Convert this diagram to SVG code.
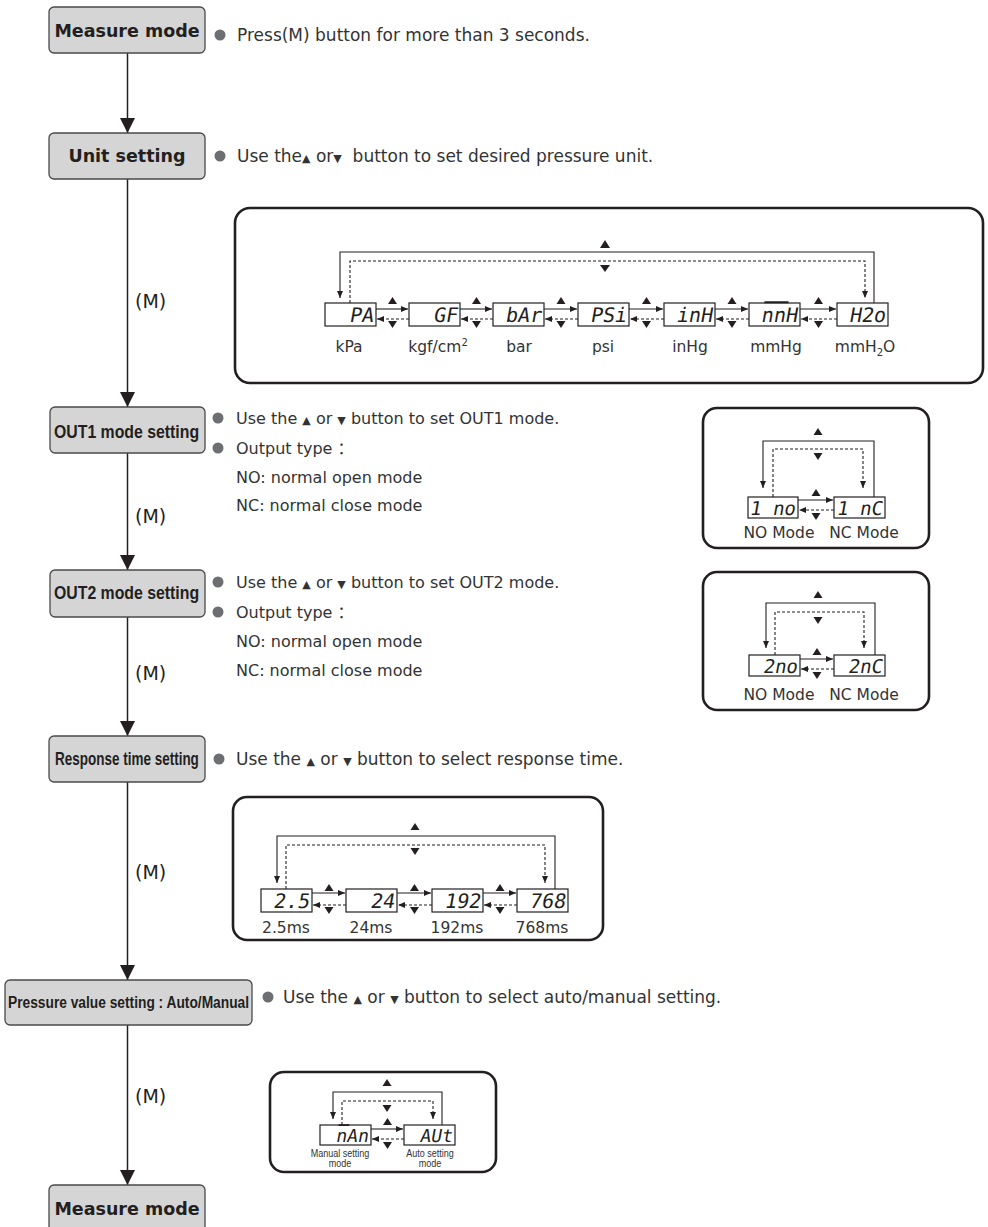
<svg xmlns="http://www.w3.org/2000/svg" width="988" height="1227" viewBox="0 0 988 1227">
<style>
.box{fill:#d5d5d6;stroke:#4a4a4a;stroke-width:1.3}
.bl{font-family:"DejaVu Sans",sans-serif;font-weight:bold;font-size:17.5px;fill:#231f20;text-anchor:middle}
.bc{font-family:"Liberation Sans",Arial,sans-serif;font-weight:bold;fill:#231f20}
.t{font-family:"DejaVu Sans","Noto Sans CJK SC",sans-serif;font-size:17px;fill:#333}
.t16{font-size:16px}
.tri{font-size:11px}
.m{font-family:"DejaVu Sans",sans-serif;font-size:19px;fill:#231f20}
.dot{fill:#6d6e71}
.panel{fill:#fff;stroke:#231f20;stroke-width:2.6}
.disp{fill:#fff;stroke:#231f20;stroke-width:1.2}
.seg{font-family:"DejaVu Sans Mono",monospace;fill:#231f20;text-anchor:end}
.lbl{font-family:"DejaVu Sans",sans-serif;font-size:15.5px;fill:#333;text-anchor:middle}
.sl{font-family:"Liberation Sans",Arial,sans-serif;font-size:11px;fill:#333;text-anchor:middle}
.main{stroke:#231f20;stroke-width:1.5;fill:none}
.ln{stroke:#231f20;stroke-width:1.1;fill:none}
.dash{stroke:#231f20;stroke-width:1.1;fill:none;stroke-dasharray:3 2}
.ar{fill:#231f20}
</style>
<defs>
<marker id="big" markerUnits="userSpaceOnUse" markerWidth="16" markerHeight="16" refX="15" refY="7.5" orient="auto"><path d="M0,0 L15,7.5 L0,15 z" fill="#231f20"/></marker>
<marker id="sm" markerUnits="userSpaceOnUse" markerWidth="8" markerHeight="6" refX="7" refY="3" orient="auto"><path d="M0,0 L7,3 L0,6 z" fill="#231f20"/></marker>
</defs>
<rect width="988" height="1227" fill="#fff"/>

<!-- main flow connectors -->
<g id="connectors">
<line class="main" x1="127.5" y1="53" x2="127.5" y2="133" marker-end="url(#big)"/>
<line class="main" x1="127.5" y1="179" x2="127.5" y2="407" marker-end="url(#big)"/>
<line class="main" x1="127.5" y1="453" x2="127.5" y2="570" marker-end="url(#big)"/>
<line class="main" x1="127.5" y1="617" x2="127.5" y2="736" marker-end="url(#big)"/>
<line class="main" x1="127.5" y1="782" x2="127.5" y2="980" marker-end="url(#big)"/>
<line class="main" x1="127.5" y1="1025" x2="127.5" y2="1185" marker-end="url(#big)"/>
<text class="m" x="135" y="308">(M)</text>
<text class="m" x="135" y="523">(M)</text>
<text class="m" x="135" y="680">(M)</text>
<text class="m" x="135" y="879">(M)</text>
<text class="m" x="135" y="1103">(M)</text>
</g>

<!-- nodes -->
<g id="measure-mode-top">
<rect class="box" x="49" y="7" width="156" height="46" rx="5"/>
<text class="bl" x="127" y="37">Measure mode</text>
<circle class="dot" cx="220" cy="35" r="5.5"/>
<text class="t" x="237" y="41">Press(M) button for more than 3 seconds.</text>
</g>

<g id="unit-setting">
<rect class="box" x="49" y="133" width="156" height="46" rx="5"/>
<text class="bl" x="127" y="162">Unit setting</text>
<circle class="dot" cx="220" cy="156" r="5.5"/>
<text class="t" x="237" y="162" xml:space="preserve">Use the<tspan class="tri">▲</tspan> or<tspan class="tri">▼</tspan>  button to set desired pressure unit.</text>
</g>

<g id="unit-panel">
<rect class="panel" x="235" y="208" width="748" height="175" rx="15"/>
<polygon class="ar" points="605,240 610,248 600,248"/>
<polygon class="ar" points="600,265 610,265 605,272"/>
<path class="ln" d="M874,303 V252 H340 V298" marker-end="url(#sm)"/>
<path class="dash" d="M350,303 V261 H865 V298" marker-end="url(#sm)"/>
<rect class="disp" x="325" y="303" width="51" height="23"/>
<rect class="disp" x="409" y="303" width="51" height="23"/>
<rect class="disp" x="493" y="303" width="51" height="23"/>
<rect class="disp" x="578" y="303" width="51" height="23"/>
<rect class="disp" x="664" y="303" width="51" height="23"/>
<rect class="disp" x="749" y="303" width="51" height="23"/>
<rect class="disp" x="837" y="303" width="51" height="23"/>
<text class="seg" font-size="20" transform="translate(373,322) skewX(-10)">PA</text>
<text class="seg" font-size="20" transform="translate(457,322) skewX(-10)">GF</text>
<text class="seg" font-size="20" transform="translate(541,322) skewX(-10)">bAr</text>
<text class="seg" font-size="20" transform="translate(626,322) skewX(-10)">PSi</text>
<text class="seg" font-size="20" transform="translate(712,322) skewX(-10)">inH</text>
<text class="seg" font-size="20" transform="translate(797,322) skewX(-10)"><tspan text-decoration="overline">nn</tspan>H</text>
<text class="seg" font-size="20" transform="translate(885,322) skewX(-10)">H2o</text>
<g>
<line class="ln" x1="376" y1="309" x2="408" y2="309" marker-end="url(#sm)"/>
<line class="dash" x1="409" y1="319" x2="377" y2="319" marker-end="url(#sm)"/>
<polygon class="ar" points="392.5,297 397,304 388,304"/><polygon class="ar" points="388,321 397,321 392.5,328"/>
<line class="ln" x1="460" y1="309" x2="492" y2="309" marker-end="url(#sm)"/>
<line class="dash" x1="493" y1="319" x2="461" y2="319" marker-end="url(#sm)"/>
<polygon class="ar" points="476.5,297 481,304 472,304"/><polygon class="ar" points="472,321 481,321 476.5,328"/>
<line class="ln" x1="544" y1="309" x2="577" y2="309" marker-end="url(#sm)"/>
<line class="dash" x1="578" y1="319" x2="545" y2="319" marker-end="url(#sm)"/>
<polygon class="ar" points="561,297 565.5,304 556.5,304"/><polygon class="ar" points="556.5,321 565.5,321 561,328"/>
<line class="ln" x1="629" y1="309" x2="663" y2="309" marker-end="url(#sm)"/>
<line class="dash" x1="664" y1="319" x2="630" y2="319" marker-end="url(#sm)"/>
<polygon class="ar" points="646.5,297 651,304 642,304"/><polygon class="ar" points="642,321 651,321 646.5,328"/>
<line class="ln" x1="715" y1="309" x2="748" y2="309" marker-end="url(#sm)"/>
<line class="dash" x1="749" y1="319" x2="716" y2="319" marker-end="url(#sm)"/>
<polygon class="ar" points="732,297 736.5,304 727.5,304"/><polygon class="ar" points="727.5,321 736.5,321 732,328"/>
<line class="ln" x1="800" y1="309" x2="836" y2="309" marker-end="url(#sm)"/>
<line class="dash" x1="837" y1="319" x2="801" y2="319" marker-end="url(#sm)"/>
<polygon class="ar" points="818.5,297 823,304 814,304"/><polygon class="ar" points="814,321 823,321 818.5,328"/>
</g>
<text class="lbl" x="349" y="352">kPa</text>
<text class="lbl" x="438" y="352">kgf/cm<tspan font-size="10" dy="-6">2</tspan></text>
<text class="lbl" x="519" y="352">bar</text>
<text class="lbl" x="603" y="352">psi</text>
<text class="lbl" x="690" y="352">inHg</text>
<text class="lbl" x="776" y="352">mmHg</text>
<text class="lbl" x="865" y="352">mmH<tspan font-size="10" dy="4">2</tspan><tspan dy="-4">O</tspan></text>
</g>

<g id="out1-mode-setting">
<rect class="box" x="50" y="407" width="155" height="46" rx="5"/>
<text class="bc" font-size="18" transform="translate(54,438) scale(0.88,1)">OUT1 mode setting</text>
<circle class="dot" cx="218" cy="418" r="5.5"/>
<circle class="dot" cx="218" cy="448" r="5.5"/>
<text class="t t16" x="236" y="424">Use the <tspan class="tri">▲</tspan> or <tspan class="tri">▼</tspan> button to set OUT1 mode.</text>
<text class="t t16" x="236" y="454">Output type ：</text>
<text class="t t16" x="236" y="483">NO: normal open mode</text>
<text class="t t16" x="236" y="511">NC: normal close mode</text>
</g>

<g id="out1-panel">
<rect class="panel" x="703" y="408" width="226" height="140" rx="14"/>
<polygon class="ar" points="818,428 822.5,435 813.5,435"/>
<polygon class="ar" points="813.5,453 822.5,453 818,460"/>
<path class="ln" d="M874,497 V441 H763 V488" marker-end="url(#sm)"/>
<path class="dash" d="M773,497 V449 H863 V488" marker-end="url(#sm)"/>
<rect class="disp" x="748" y="497" width="50" height="21"/>
<rect class="disp" x="834" y="497" width="51" height="21"/>
<text class="seg" font-size="19" transform="translate(795,515) skewX(-10)" xml:space="preserve">1 no</text>
<text class="seg" font-size="19" transform="translate(882,515) skewX(-10)" xml:space="preserve">1 nC</text>
<line class="ln" x1="798" y1="500" x2="833" y2="500" marker-end="url(#sm)"/>
<line class="dash" x1="834" y1="510" x2="799" y2="510" marker-end="url(#sm)"/>
<polygon class="ar" points="816,489 820.5,496 811.5,496"/>
<polygon class="ar" points="811.5,513 820.5,513 816,520"/>
<text class="lbl" x="779" y="538">NO Mode</text>
<text class="lbl" x="864" y="538">NC Mode</text>
</g>

<g id="out2-mode-setting">
<rect class="box" x="50" y="570" width="155" height="47" rx="5"/>
<text class="bc" font-size="18" transform="translate(54,599) scale(0.88,1)">OUT2 mode setting</text>
<circle class="dot" cx="218" cy="582" r="5.5"/>
<circle class="dot" cx="218" cy="612" r="5.5"/>
<text class="t t16" x="236" y="588">Use the <tspan class="tri">▲</tspan> or <tspan class="tri">▼</tspan> button to set OUT2 mode.</text>
<text class="t t16" x="236" y="618">Output type ：</text>
<text class="t t16" x="236" y="647">NO: normal open mode</text>
<text class="t t16" x="236" y="676">NC: normal close mode</text>
</g>

<g id="out2-panel">
<rect class="panel" x="703" y="572" width="226" height="138" rx="14"/>
<polygon class="ar" points="818,591 822.5,598 813.5,598"/>
<polygon class="ar" points="813.5,617 822.5,617 818,624"/>
<path class="ln" d="M875,655 V603 H766 V648" marker-end="url(#sm)"/>
<path class="dash" d="M775,655 V612 H864 V648" marker-end="url(#sm)"/>
<rect class="disp" x="749" y="655" width="51" height="21"/>
<rect class="disp" x="834" y="655" width="51" height="21"/>
<text class="seg" font-size="19" transform="translate(797,673) skewX(-10)">2no</text>
<text class="seg" font-size="19" transform="translate(882,673) skewX(-10)">2nC</text>
<line class="ln" x1="800" y1="659" x2="833" y2="659" marker-end="url(#sm)"/>
<line class="dash" x1="834" y1="669" x2="801" y2="669" marker-end="url(#sm)"/>
<polygon class="ar" points="817,648 821.5,655 812.5,655"/>
<polygon class="ar" points="812.5,672 821.5,672 817,679"/>
<text class="lbl" x="779" y="700">NO Mode</text>
<text class="lbl" x="864" y="700">NC Mode</text>
</g>

<g id="response-time-setting">
<rect class="box" x="49" y="736" width="156" height="46" rx="5"/>
<text class="bc" font-size="18" transform="translate(55,765) scale(0.75,1)">Response time setting</text>
<circle class="dot" cx="219" cy="759" r="5.5"/>
<text class="t" x="236" y="765">Use the <tspan class="tri">▲</tspan> or <tspan class="tri">▼</tspan> button to select response time.</text>
</g>

<g id="response-panel">
<rect class="panel" x="233" y="797" width="370" height="143" rx="14"/>
<polygon class="ar" points="415,823 419.5,830 410.5,830"/>
<polygon class="ar" points="410.5,848 419.5,848 415,855"/>
<path class="ln" d="M555,889 V836 H277 V883" marker-end="url(#sm)"/>
<path class="dash" d="M286,889 V845 H545 V883" marker-end="url(#sm)"/>
<rect class="disp" x="261" y="889" width="51" height="23"/>
<rect class="disp" x="346" y="889" width="51" height="23"/>
<rect class="disp" x="432" y="889" width="51" height="23"/>
<rect class="disp" x="517" y="889" width="51" height="23"/>
<text class="seg" font-size="20" transform="translate(309,908) skewX(-10)">2.5</text>
<text class="seg" font-size="20" transform="translate(394,908) skewX(-10)">24</text>
<text class="seg" font-size="20" transform="translate(480,908) skewX(-10)">192</text>
<text class="seg" font-size="20" transform="translate(565,908) skewX(-10)">768</text>
<line class="ln" x1="312" y1="893" x2="345" y2="893" marker-end="url(#sm)"/>
<line class="dash" x1="346" y1="905" x2="313" y2="905" marker-end="url(#sm)"/>
<polygon class="ar" points="329,884 333.5,891 324.5,891"/><polygon class="ar" points="324.5,907 333.5,907 329,914"/>
<line class="ln" x1="397" y1="893" x2="431" y2="893" marker-end="url(#sm)"/>
<line class="dash" x1="432" y1="905" x2="398" y2="905" marker-end="url(#sm)"/>
<polygon class="ar" points="414.5,884 419,891 410,891"/><polygon class="ar" points="410,907 419,907 414.5,914"/>
<line class="ln" x1="483" y1="893" x2="516" y2="893" marker-end="url(#sm)"/>
<line class="dash" x1="517" y1="905" x2="484" y2="905" marker-end="url(#sm)"/>
<polygon class="ar" points="500,884 504.5,891 495.5,891"/><polygon class="ar" points="495.5,907 504.5,907 500,914"/>
<text class="lbl" x="286" y="933">2.5ms</text>
<text class="lbl" x="371" y="933">24ms</text>
<text class="lbl" x="457" y="933">192ms</text>
<text class="lbl" x="542" y="933">768ms</text>
</g>

<g id="pressure-value-setting">
<rect class="box" x="5" y="980" width="247" height="45" rx="5"/>
<text class="bc" font-size="17" transform="translate(8,1008) scale(0.81,1)">Pressure value setting : Auto/Manual</text>
<circle class="dot" cx="268" cy="997" r="5.5"/>
<text class="t" x="283" y="1003">Use the <tspan class="tri">▲</tspan> or <tspan class="tri">▼</tspan> button to select auto/manual setting.</text>
</g>

<g id="auto-manual-panel">
<rect class="panel" x="270" y="1072" width="226" height="100" rx="14"/>
<polygon class="ar" points="387,1079 391.5,1086 382.5,1086"/>
<polygon class="ar" points="382.5,1105 391.5,1105 387,1112"/>
<path class="ln" d="M442,1125 V1092 H333 V1119" marker-end="url(#sm)"/>
<path class="dash" d="M342,1125 V1101 H433 V1119" marker-end="url(#sm)"/>
<rect class="disp" x="320" y="1125" width="51" height="20"/>
<rect class="disp" x="404" y="1125" width="51" height="20"/>
<text class="seg" font-size="18" transform="translate(368,1142) skewX(-10)"><tspan text-decoration="overline">n</tspan>An</text>
<text class="seg" font-size="18" transform="translate(452,1142) skewX(-10)">AUt</text>
<line class="ln" x1="371" y1="1129" x2="403" y2="1129" marker-end="url(#sm)"/>
<line class="dash" x1="404" y1="1139" x2="372" y2="1139" marker-end="url(#sm)"/>
<polygon class="ar" points="387.5,1118 392,1125 383,1125"/>
<polygon class="ar" points="383,1142 392,1142 387.5,1149"/>
<text class="sl" font-size="11" transform="translate(340,1157) scale(0.82,1)">Manual setting</text>
<text class="sl" font-size="11" transform="translate(340,1167) scale(0.82,1)">mode</text>
<text class="sl" font-size="11" transform="translate(430,1157) scale(0.82,1)">Auto setting</text>
<text class="sl" font-size="11" transform="translate(430,1167) scale(0.82,1)">mode</text>
</g>

<g id="measure-mode-bottom">
<rect class="box" x="49" y="1185" width="156" height="50" rx="5"/>
<text class="bl" x="127" y="1215">Measure mode</text>
</g>
</svg>
